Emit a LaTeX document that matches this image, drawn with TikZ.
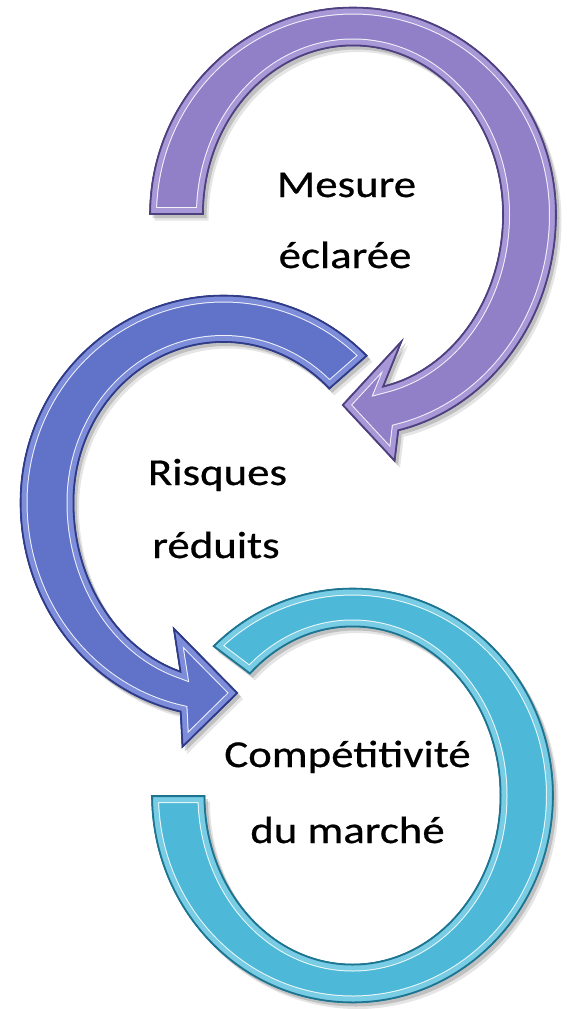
\documentclass[tikz,border=0pt]{standalone}
\usepackage{fontspec}
\newfontfamily\labfont[FakeStretch=1.18,FakeBold=0.6]{Carlito}
\usetikzlibrary{calc}
\definecolor{pmain}{HTML}{9180C8}
\definecolor{pbev}{HTML}{A898D8}
\definecolor{pdark}{HTML}{4E3F7E}
\definecolor{bmain}{HTML}{6073C9}
\definecolor{bbev}{HTML}{7D8DDA}
\definecolor{bdark}{HTML}{2E3A86}
\definecolor{cmain}{HTML}{4DB8D7}
\definecolor{cbev}{HTML}{78CDE4}
\definecolor{cdark}{HTML}{1D7490}
% purple arrow: centre (353,-214.5)
\def\purplepath{($(353,-214.5)+(180:203.5pt and 207.5pt)$)
  arc[start angle=180,end angle=0,x radius=203.5pt,y radius=207.5pt]
  arc[start angle=0,end angle=-77,x radius=203.5pt,y radius=222pt]
  -- (395,-462) -- (342,-405) -- (403,-339)
  -- ($(353,-214.5)+(-78:149.5pt and 175pt)$)
  arc[start angle=-78,end angle=0,x radius=149.5pt,y radius=175pt]
  arc[start angle=0,end angle=180,x radius=149.5pt,y radius=168.5pt]
  -- cycle}
% blue arrow: centre (223.5,-502.5)
\def\bluepath{($(223.5,-502.5)+(45:203.5pt and 207.5pt)$)
  arc[start angle=45,end angle=180,x radius=203.5pt,y radius=207.5pt]
  arc[start angle=180,end angle=257.7,x radius=203.5pt,y radius=214.5pt]
  -- (182,-748) -- (238,-693) -- (173,-627)
  -- ($(223.5,-502.5)+(253:149.5pt and 176pt)$)
  arc[start angle=253,end angle=180,x radius=149.5pt,y radius=176pt]
  arc[start angle=180,end angle=45,x radius=149.5pt,y radius=160pt]
  -- cycle}
% cyan ring: centre (352.5,-795.5)
\def\cyanpath{($(352.5,-795.5)+(134:201pt and 207.5pt)$)
  arc[start angle=134,end angle=-180,x radius=201pt,y radius=207.5pt]
  -- ($(352.5,-795.5)+(180:147.5pt and 168.5pt)$)
  arc[start angle=-180,end angle=134,x radius=147.5pt,y radius=168.5pt]
  -- cycle}
\newcommand{\bevelshape}[4]{%
  \fill[black,opacity=.10,transform canvas={xshift=5pt,yshift=-6pt}] #1;
  \fill[black,opacity=.16,transform canvas={xshift=3pt,yshift=-3.5pt}] #1;
  \fill[#2] #1;
  \begin{scope}
    \clip #1;
    \draw[white,opacity=.9,line width=15pt,line join=miter] #1;
    \draw[#3,line width=13pt,line join=miter] #1;
    \draw[#4,line width=3pt,line join=miter] #1;
  \end{scope}
  \draw[#4,line width=.6pt,line join=miter] #1;
}
\tikzset{lab/.style={font=\labfont\fontsize{38}{45}\selectfont, inner sep=0pt, anchor=base, text=black}}
\begin{document}
\begin{tikzpicture}[x=1pt,y=1pt]
\fill[white] (0,0) rectangle (567,-1009);
\useasboundingbox (0,0) rectangle (567,-1009);
\bevelshape{\purplepath}{pmain}{pbev}{pdark}
\bevelshape{\bluepath}{bmain}{bbev}{bdark}
\bevelshape{\cyanpath}{cmain}{cbev}{cdark}
\node[lab] (m1) at (346.5,-197) {Mesure};
\node[lab] (m2) at (345,-268) {éclarée};
\node[lab] (r1) at (217.5,-485) {Risques};
\node[lab] (r2) at (216,-558) {réduits};
\node[lab] (c1) at (347.5,-767) {Compétitivité};
\node[lab] (c2) at (347.5,-843) {du marché};
\end{tikzpicture}
\end{document}
